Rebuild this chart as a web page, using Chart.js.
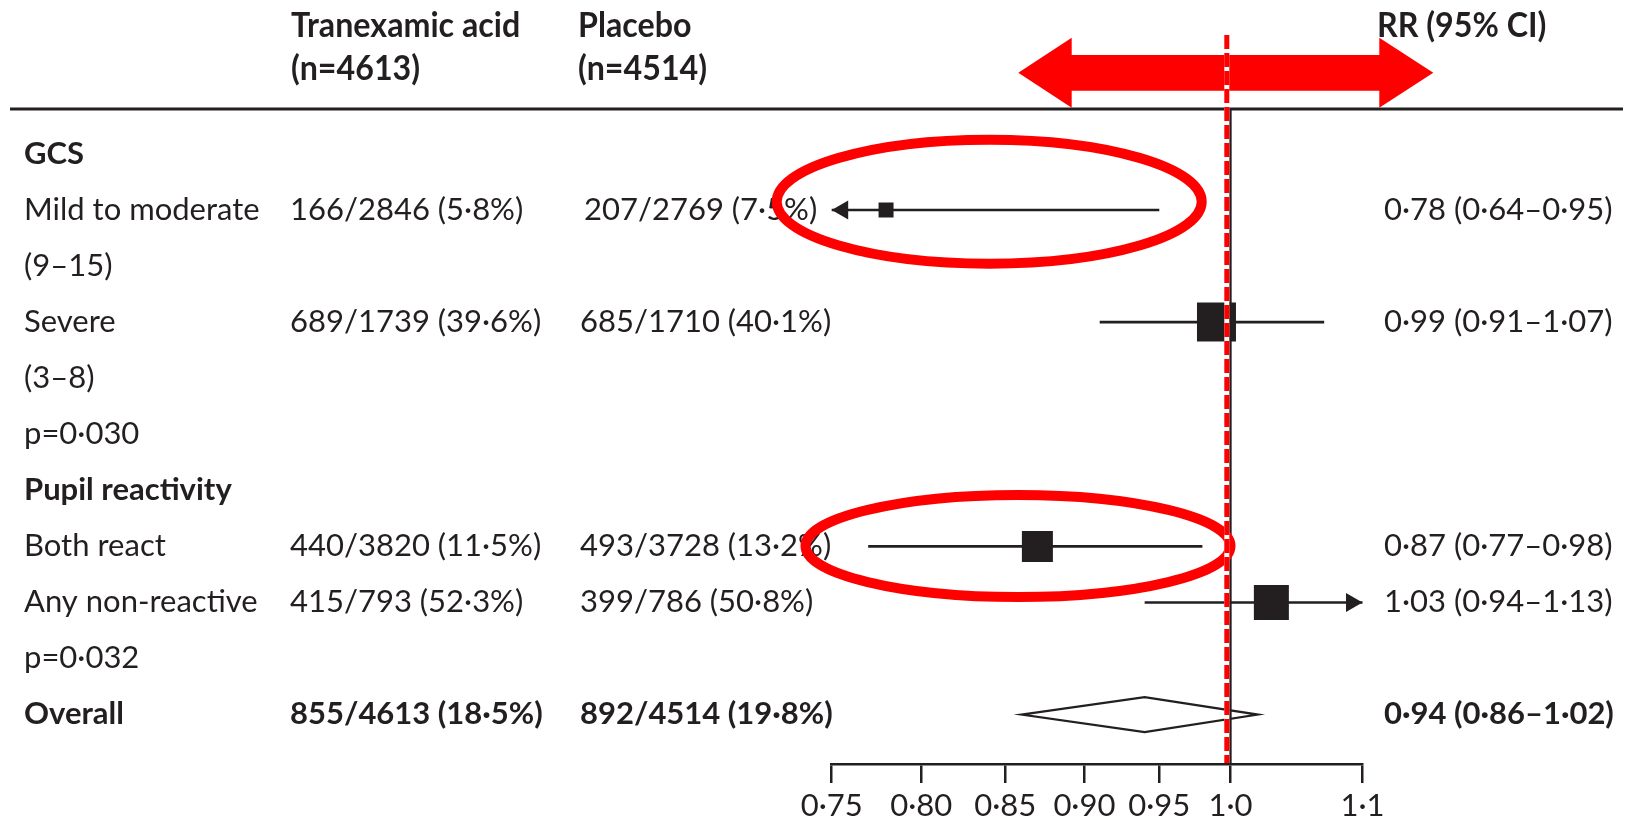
<!DOCTYPE html>
<html>
<head>
<meta charset="utf-8">
<script src="https://cdn.jsdelivr.net/npm/chart.js@4.4.1/dist/chart.umd.min.js"></script>
<style>
  html, body { margin: 0; padding: 0; background: #ffffff; }
  #wrap { width: 1629px; height: 821px; position: relative; }
  canvas { display: block; }
</style>
</head>
<body>
<div id="wrap"><canvas id="forest" width="1629" height="821"></canvas></div>
<script>
// ---- Table rows, top to bottom ----
const rowLabels = ['GCS', 'Mild to moderate', '(9–15)', 'Severe', '(3–8)', 'p=0·030',
                   'Pupil reactivity', 'Both react', 'Any non-reactive', 'p=0·032', 'Overall'];
const boldRows = [0, 6, 10];
const tranexamicCounts = ['', '166/2846 (5·8%)', '', '689/1739 (39·6%)', '', '', '',
                          '440/3820 (11·5%)', '415/793 (52·3%)', '', '855/4613 (18·5%)'];
const placeboCounts = ['', '207/2769 (7·5%)', '', '685/1710 (40·1%)', '', '', '',
                       '493/3728 (13·2%)', '399/786 (50·8%)', '', '892/4514 (19·8%)'];

// ---- Subgroup risk ratios with 95% CI ----
const subgroupRows = [1, 3, 7, 8];
const riskRatio = [0.78, 0.99, 0.87, 1.03];
const ciLower = [0.64, 0.91, 0.77, 0.94];
const ciUpper = [0.95, 1.07, 0.98, 1.13];

// ---- Overall pooled estimate ----
const overallRow = 10;
const overallRR = [0.94];
const overallLower = [0.86];
const overallUpper = [1.02];

// ---- Axis ----
const tickValues = [0.75, 0.80, 0.85, 0.90, 0.95, 1.0, 1.1];
const tickLabels = ['0·75', '0·80', '0·85', '0·90', '0·95', '1·0', '1·1'];
const axisMin = 0.75, axisMax = 1.1;

// ---- Styling ----
const INK = '#231f20';
const RED = '#ff0000';
const FONT = 'Lato, "Open Sans", "Noto Sans", sans-serif';
const boxSide = [15, 39, 31, 35];     // marker square size, px
const rowStep = 56.07;                // px between rows
const firstRowY = 153.9;              // centre of first row, px
const axisY = 764;                    // x axis line, px
const col = { label: 24, treat: 290, placebo: 580, rr: 1384 };

const fmt = v => v.toFixed(2).replace('.', '·');

function rowText(i) {
  const k = subgroupRows.indexOf(i);
  if (k >= 0) return fmt(riskRatio[k]) + ' (' + fmt(ciLower[k]) + '–' + fmt(ciUpper[k]) + ')';
  if (i === overallRow) return fmt(overallRR[0]) + ' (' + fmt(overallLower[0]) + '–' + fmt(overallUpper[0]) + ')';
  return '';
}

// header type is a narrowed bold face
function condensedText(ctx, text, x, y, squeeze) {
  ctx.save();
  ctx.translate(x, y);
  ctx.scale(squeeze, 1);
  ctx.fillText(text, 0, 0);
  ctx.restore();
}

const forestPlugin = {
  id: 'forestTable',
  beforeDatasetsDraw(chart) {
    const { ctx, scales: { x, y } } = chart;
    ctx.save();

    // header
    ctx.fillStyle = INK;
    ctx.textBaseline = 'alphabetic';
    ctx.textAlign = 'left';
    ctx.font = 'bold 35px ' + FONT;
    const sq = 0.92;
    condensedText(ctx, 'Tranexamic acid', col.treat + 1, 37, sq);
    condensedText(ctx, '(n=4613)', col.treat + 1, 80, sq);
    condensedText(ctx, 'Placebo', col.placebo - 2, 37, sq);
    condensedText(ctx, '(n=4514)', col.placebo - 2, 80, sq);
    condensedText(ctx, 'RR (95% CI)', col.rr - 7, 37, sq);

    // header rule
    ctx.strokeStyle = INK;
    ctx.lineWidth = 3;
    ctx.beginPath();
    ctx.moveTo(10, 109);
    ctx.lineTo(1623, 109);
    ctx.stroke();

    // table body
    for (let i = 0; i < rowLabels.length; i++) {
      const base = y.getPixelForValue(i) + 9.8;
      const bold = boldRows.includes(i);
      ctx.font = (bold ? 'bold ' : '') + '31px ' + FONT;
      ctx.fillText(rowLabels[i], col.label, base);
      if (tranexamicCounts[i]) ctx.fillText(tranexamicCounts[i], col.treat, base);
      if (placeboCounts[i]) ctx.fillText(placeboCounts[i], col.placebo + (i === 1 ? 4 : 0), base);
      const t = rowText(i);
      if (t) ctx.fillText(t, col.rr, base);
    }

    // pooled diamond
    const yo = y.getPixelForValue(overallRow);
    const h = 17.5;
    ctx.beginPath();
    ctx.moveTo(x.getPixelForValue(overallLower[0]), yo);
    ctx.lineTo(x.getPixelForValue(overallRR[0]), yo - h);
    ctx.lineTo(x.getPixelForValue(overallUpper[0]), yo);
    ctx.lineTo(x.getPixelForValue(overallRR[0]), yo + h);
    ctx.closePath();
    ctx.fillStyle = '#ffffff';
    ctx.fill();
    ctx.lineWidth = 2.2;
    ctx.strokeStyle = INK;
    ctx.stroke();

    // line of no effect
    const x1 = x.getPixelForValue(1);
    ctx.lineWidth = 2.5;
    ctx.beginPath();
    ctx.moveTo(x1, 109);
    ctx.lineTo(x1, axisY);
    ctx.stroke();

    // confidence intervals, with arrows where they run off the axis
    ctx.fillStyle = INK;
    ctx.lineWidth = 2.6;
    subgroupRows.forEach((r, k) => {
      const yp = y.getPixelForValue(r);
      const lo = x.getPixelForValue(Math.max(ciLower[k], axisMin));
      const hi = x.getPixelForValue(Math.min(ciUpper[k], axisMax));
      ctx.beginPath();
      ctx.moveTo(lo, yp);
      ctx.lineTo(hi, yp);
      ctx.stroke();
      const head = 16.5, half = 9.5;
      if (ciLower[k] < axisMin) {
        ctx.beginPath();
        ctx.moveTo(lo, yp);
        ctx.lineTo(lo + head, yp - half);
        ctx.lineTo(lo + head, yp + half);
        ctx.closePath();
        ctx.fill();
      }
      if (ciUpper[k] > axisMax) {
        ctx.beginPath();
        ctx.moveTo(hi, yp);
        ctx.lineTo(hi - head, yp - half);
        ctx.lineTo(hi - head, yp + half);
        ctx.closePath();
        ctx.fill();
      }
    });
    ctx.restore();
  },
  afterDatasetsDraw(chart) {
    const { ctx, scales: { x } } = chart;
    ctx.save();
    ctx.strokeStyle = RED;
    ctx.fillStyle = RED;

    // highlight rings
    ctx.lineWidth = 10;
    ctx.beginPath();
    ctx.ellipse(989.2, 201.7, 212.5, 62, 0, 0, Math.PI * 2);
    ctx.stroke();
    ctx.beginPath();
    ctx.ellipse(1018, 546, 212.5, 51, 0, 0, Math.PI * 2);
    ctx.stroke();

    // double-headed direction arrow
    const cy = 72.7;
    ctx.beginPath();
    ctx.moveTo(1018.3, cy);
    ctx.lineTo(1071.7, 37.7);
    ctx.lineTo(1071.7, 55);
    ctx.lineTo(1379.3, 55);
    ctx.lineTo(1379.3, 37.7);
    ctx.lineTo(1433.3, cy);
    ctx.lineTo(1379.3, 107.7);
    ctx.lineTo(1379.3, 90.7);
    ctx.lineTo(1071.7, 90.7);
    ctx.lineTo(1071.7, 107.7);
    ctx.closePath();
    ctx.fill();

    // dashed reference line
    const xr = x.getPixelForValue(1) - 3.6;
    ctx.lineWidth = 5;
    ctx.strokeStyle = '#ffffff';
    ctx.beginPath();
    ctx.moveTo(xr, 35);
    ctx.lineTo(xr, axisY - 1);
    ctx.stroke();
    ctx.strokeStyle = RED;
    ctx.setLineDash([14, 4]);
    ctx.beginPath();
    ctx.moveTo(xr, 35);
    ctx.lineTo(xr, axisY - 1);
    ctx.stroke();
    ctx.restore();
  }
};

const chart = new Chart(document.getElementById('forest'), {
  type: 'scatter',
  data: {
    datasets: [{
      label: 'Risk ratio',
      data: subgroupRows.map((r, k) => ({ x: riskRatio[k], y: r })),
      pointStyle: 'rect',
      pointRadius: boxSide.map(s => s / Math.SQRT2),
      pointHoverRadius: boxSide.map(s => s / Math.SQRT2),
      backgroundColor: INK,
      borderWidth: 0,
      showLine: false
    }]
  },
  options: {
    responsive: false,
    animation: false,
    events: [],
    layout: { padding: { left: 831.7, right: 1629 - 1362.5, top: firstRowY - rowStep, bottom: 0 } },
    plugins: { legend: { display: false }, tooltip: { enabled: false } },
    scales: {
      x: {
        type: 'logarithmic',
        position: 'bottom',
        min: axisMin,
        max: axisMax,
        afterBuildTicks: s => { s.ticks = tickValues.map(v => ({ value: v })); },
        afterFit: s => { s.height = 821 - axisY; },
        ticks: {
          autoSkip: false,
          maxRotation: 0,
          padding: 4,
          color: INK,
          font: { family: FONT, size: 31, lineHeight: 1.2 },
          callback: (v, i) => tickLabels[i]
        },
        grid: { display: true, drawOnChartArea: false, drawTicks: true, tickLength: 19, color: INK, lineWidth: 2.5 },
        border: { display: true, color: INK, width: 2.5 }
      },
      y: {
        type: 'linear',
        display: false,
        reverse: true,
        min: -1,
        max: -1 + (axisY - (firstRowY - rowStep)) / rowStep
      }
    }
  },
  plugins: [forestPlugin]
});
</script>
</body>
</html>
